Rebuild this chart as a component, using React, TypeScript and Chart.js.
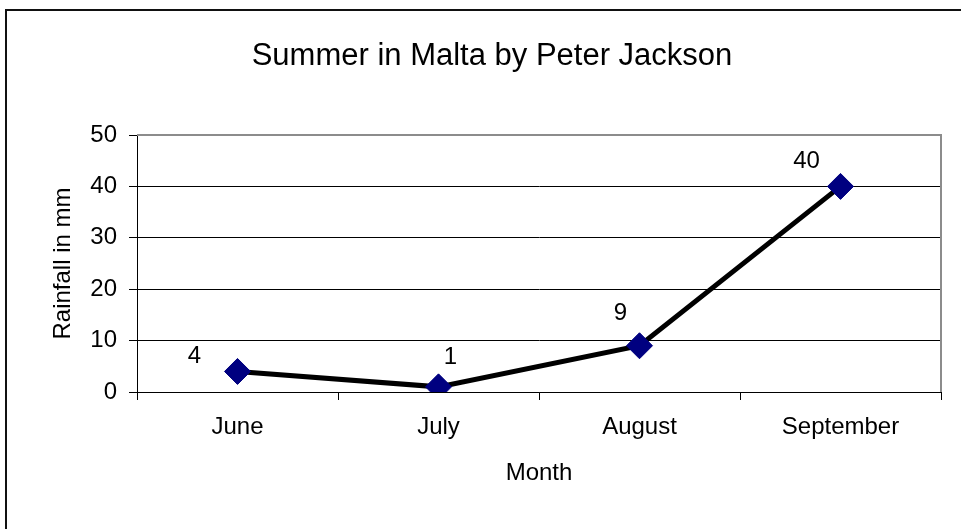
import React, { useEffect, useRef } from "react";
import { Chart, registerables } from "chart.js";

Chart.register(...registerables);

// Monthly rainfall figures
const months = ["June", "July", "August", "September"];
const rainfall = [4, 1, 9, 40];

const titleText = "Summer in Malta by Peter Jackson";
const yTitle = "Rainfall in mm";
const xTitle = "Month";

const FONT = "'Liberation Sans', Arial, Helvetica, sans-serif";

// Offsets of each value label from its marker (px)
const LABEL_OFFSETS: [number, number][] = [
  [-43, -15],
  [12, -29],
  [-19, -32],
  [-34, -25],
];

// Outer frame around the whole chart, plus the heading
const outerFrame = {
  id: "outerFrame",
  beforeDraw(chart: any) {
    const { ctx, width, height } = chart;
    ctx.save();
    ctx.fillStyle = "#ffffff";
    ctx.fillRect(0, 0, width, height);
    ctx.strokeStyle = "#111111";
    ctx.lineWidth = 2;
    ctx.strokeRect(6, 10, width + 10, height + 10);
    ctx.font = `31px ${FONT}`;
    ctx.fillStyle = "#000000";
    ctx.textAlign = "center";
    ctx.textBaseline = "middle";
    ctx.fillText(titleText, 492, 56);
    ctx.restore();
  },
};

// Grey border on the top and right of the plot area
const plotFrame = {
  id: "plotFrame",
  beforeDatasetsDraw(chart: any) {
    const { ctx, chartArea } = chart;
    const { left, top, right, bottom } = chartArea;
    ctx.save();
    ctx.strokeStyle = "#8c8c8c";
    ctx.lineWidth = 2;
    ctx.beginPath();
    ctx.moveTo(left, top);
    ctx.lineTo(right, top);
    ctx.lineTo(right, bottom);
    ctx.stroke();
    ctx.restore();
  },
};

// Value labels next to each marker
const valueLabels = {
  id: "valueLabels",
  afterDatasetsDraw(chart: any) {
    const { ctx } = chart;
    const meta = chart.getDatasetMeta(0);
    ctx.save();
    ctx.font = `24px ${FONT}`;
    ctx.fillStyle = "#000000";
    ctx.textAlign = "center";
    ctx.textBaseline = "middle";
    meta.data.forEach((pt: any, i: number) => {
      const [dx, dy] = LABEL_OFFSETS[i];
      ctx.fillText(String(rainfall[i]), pt.x + dx, pt.y + dy);
    });
    ctx.restore();
  },
};

export default function App() {
  const canvasRef = useRef<HTMLCanvasElement | null>(null);

  useEffect(() => {
    document.body.style.margin = "0";
    const canvas = canvasRef.current;
    if (!canvas) return;
    const chart = new Chart(canvas, {
      type: "line",
      data: {
        labels: months,
        datasets: [
          {
            data: rainfall,
            borderColor: "#000000",
            borderWidth: 5,
            pointStyle: "rectRot",
            pointRadius: 13,
            pointHoverRadius: 13,
            pointBackgroundColor: "#000080",
            pointBorderColor: "#000080",
            pointBorderWidth: 1,
            tension: 0,
            fill: false,
          },
        ],
      },
      options: {
        responsive: false,
        animation: false,
        devicePixelRatio: 1,
        layout: { padding: { left: 0, right: 20, top: 135, bottom: 0 } },
        plugins: {
          legend: { display: false },
          tooltip: { enabled: false },
          title: { display: false },
        },
        scales: {
          x: {
            type: "category",
            offset: true,
            afterFit(scale: any) {
              scale.height = 137;
            },
            grid: {
              offset: true,
              drawOnChartArea: false,
              drawTicks: true,
              tickLength: 8,
              color: "#000000",
              lineWidth: 1,
            },
            border: { display: true, color: "#000000", width: 1 },
            ticks: {
              color: "#000000",
              font: { family: FONT, size: 24 },
              padding: 13,
              maxRotation: 0,
            },
            title: {
              display: true,
              text: xTitle,
              color: "#000000",
              font: { family: FONT, size: 24 },
              padding: { top: 0, bottom: 41 },
            },
          },
          y: {
            min: 0,
            max: 50,
            afterFit(scale: any) {
              scale.width = 137;
            },
            grid: {
              color: "#000000",
              lineWidth: 1,
              drawTicks: true,
              tickLength: 8,
            },
            border: { display: true, color: "#000000", width: 1 },
            ticks: {
              stepSize: 10,
              color: "#000000",
              font: { family: FONT, size: 24 },
              padding: 12,
            },
            title: {
              display: true,
              text: yTitle,
              color: "#000000",
              font: { family: FONT, size: 24 },
              padding: { top: 49, bottom: 0 },
            },
          },
        },
      },
      plugins: [outerFrame, plotFrame, valueLabels],
    });
    return () => chart.destroy();
  }, []);

  return (
    <div style={{ width: 961, height: 529 }}>
      <canvas ref={canvasRef} width={961} height={529} style={{ display: "block" }} />
    </div>
  );
}
